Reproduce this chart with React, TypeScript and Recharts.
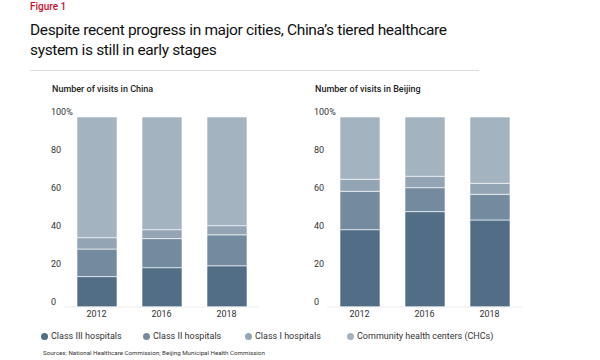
import React from 'react';
import { BarChart, Bar, XAxis, YAxis } from 'recharts';

const years = ['2012', '2016', '2018'];
const seriesNames = ['Class III hospitals', 'Class II hospitals', 'Class I hospitals', 'Community health centers (CHCs)'];
const seriesColors = ['#526e87', '#748b9f', '#93a5b4', '#a4b3c0'];

// shares of visits (%), bottom to top
const chinaClass3 = [16, 20.7, 21.7];
const chinaClass2 = [14.5, 15.3, 16.3];
const chinaClass1 = [6, 4.7, 4.8];
const chinaChc = [63.5, 59.3, 57.2];

const beijingClass3 = [40.7, 50.2, 45.8];
const beijingClass2 = [20.2, 12.6, 13.5];
const beijingClass1 = [6.3, 6, 5.8];
const beijingChc = [32.8, 31.2, 34.9];

const yTicks = [0, 20, 40, 60, 80, 100];

const keys = ['c3', 'c2', 'c1', 'chc'];

function build(a: number[], b: number[], c: number[], d: number[]) {
  return years.map((y, i) => ({ year: y, c3: a[i], c2: b[i], c1: c[i], chc: d[i] }));
}

const chinaData = build(chinaClass3, chinaClass2, chinaClass1, chinaChc);
const beijingData = build(beijingClass3, beijingClass2, beijingClass1, beijingChc);

const font = 'Roboto, "Noto Sans", sans-serif';

const YTick = (props: any) => {
  const { y, payload } = props;
  return (
    <text x={21} y={y - 4} fontSize={9} fill="#333" fontFamily={font} dominantBaseline="middle">
      {payload.value === 100 ? '100%' : payload.value}
    </text>
  );
};

function Panel({ title, data, left }: { title: string; data: any[]; left: number }) {
  return (
    <div style={{ position: 'absolute', left, top: 84, width: 240, height: 240 }}>
      <div style={{ position: 'absolute', left: 22, top: 0, fontSize: 9, fontWeight: 500, color: '#222', whiteSpace: 'nowrap' }}>
        {title}
      </div>
      <div style={{ position: 'absolute', left: 0, top: 11 }}>
        <BarChart width={240} height={229} data={data} margin={{ top: 22, right: 11, bottom: 0, left: 0 }} barSize={40}>
          <YAxis
            domain={[0, 100]}
            ticks={yTicks}
            width={34}
            axisLine={false}
            tickLine={false}
            tick={<YTick />}
            interval={0}
          />
          <XAxis
            dataKey="year"
            height={17}
            axisLine={{ stroke: '#eeeeee' }}
            tickLine={false}
            tick={{ fontSize: 9, fill: '#333', fontFamily: font }}
            tickMargin={-2}
          />
          {keys.map((k, i) => (
            <Bar key={k} dataKey={k} stackId="a" fill={seriesColors[i]} stroke="#ffffff" strokeWidth={0.6} isAnimationActive={false} />
          ))}
        </BarChart>
      </div>
    </div>
  );
}

export default function App() {
  return (
    <div style={{ position: 'absolute', left: 0, top: 0, width: 600, height: 360, background: '#fff', fontFamily: font, overflow: 'hidden' }}>
      <div style={{ position: 'absolute', left: 30, top: 1, fontSize: 10, fontWeight: 500, color: '#c8102e' }}>Figure 1</div>
      <div style={{ position: 'absolute', left: 30, top: 20, width: 460, fontSize: 15.5, fontWeight: 400, lineHeight: '20px', color: '#111', letterSpacing: -0.35 }}>
        Despite recent progress in major cities, China’s tiered healthcare
        <br />
        system is still in early stages
      </div>
      <div style={{ position: 'absolute', left: 30, top: 70, width: 449, height: 1, background: '#dddddd' }} />
      <Panel title="Number of visits in China" data={chinaData} left={30} />
      <Panel title="Number of visits in Beijing" data={beijingData} left={293} />
      {seriesNames.map((n, i) => (
        <div key={n} style={{ position: 'absolute', left: 41 + i * 102, top: 331, display: 'flex', alignItems: 'center', fontSize: 9, color: '#333', whiteSpace: 'nowrap' }}>
          <span style={{ display: 'inline-block', width: 7, height: 7, borderRadius: '50%', background: seriesColors[i], marginRight: 3 }} />
          {n}
        </div>
      ))}
      <div style={{ position: 'absolute', left: 43, top: 349, fontSize: 6.2, color: '#333', whiteSpace: 'nowrap' }}>
        Sources: National Healthcare Commission; Beijing Municipal Health Commission
      </div>
    </div>
  );
}
